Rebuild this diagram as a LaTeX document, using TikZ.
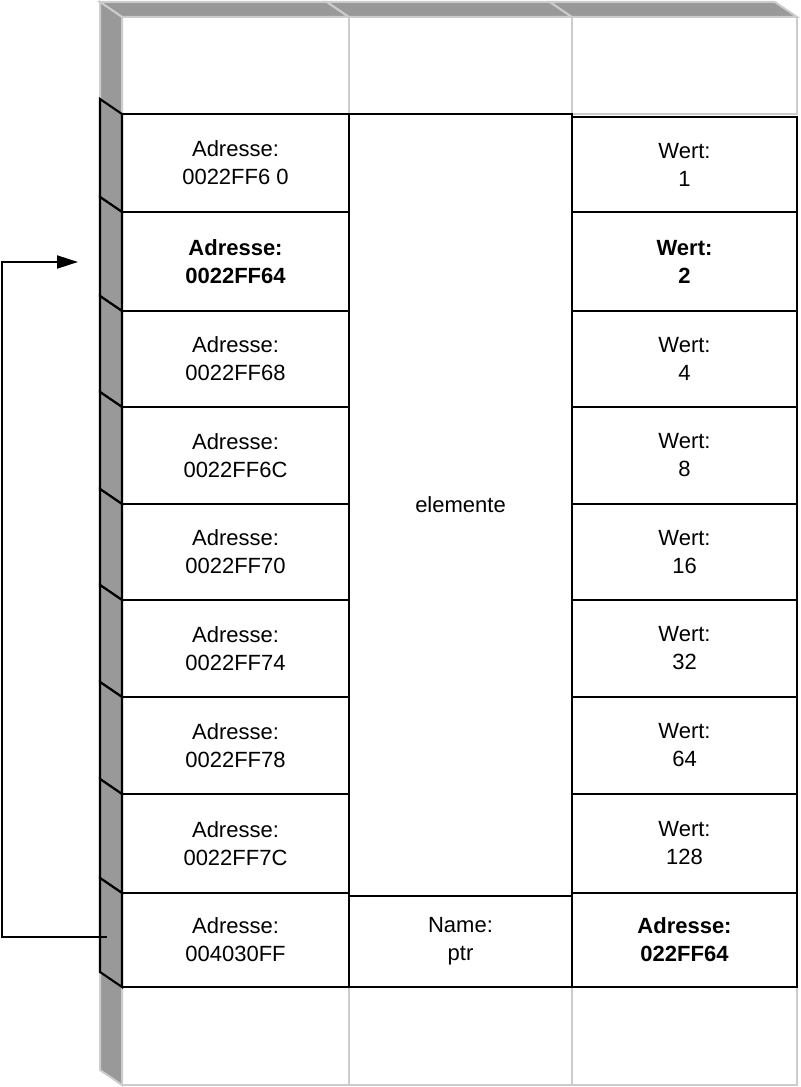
\documentclass[tikz,border=0pt]{standalone}
\usepackage{fontspec}
\setmainfont{Liberation Sans}
\usetikzlibrary{arrows.meta}
\definecolor{sidegray}{RGB}{153,153,153}
\definecolor{edgegray}{RGB}{204,204,204}
\begin{document}
\begin{tikzpicture}[x=0.75pt,y=-0.75pt,
  cell/.style={draw=black,line width=1.6pt,rectangle,inner sep=0pt,outer sep=0pt,
    align=center,font=\fontsize{16.5pt}{21pt}\selectfont},
  cellsize/.style 2 args={minimum width=#1*0.75pt,minimum height=#2*0.75pt},
  ghost/.style={draw=edgegray,line width=1.5pt},
  ghostface/.style={draw=edgegray,fill=sidegray,line width=1.5pt,line join=miter},
  sideface/.style={draw=black,fill=sidegray,line width=1.6pt,line join=miter},
  pointer/.style={draw=black,line width=1.5pt,-{Triangle[length=15.75pt,width=9.75pt]}}]
\useasboundingbox (0,0) rectangle (800,1087);

% empty frames above and below the used block
\draw[ghost] (122,17) rectangle (797,114);
\draw[ghost] (349,17) -- (349,114) (572,17) -- (572,114);
\draw[ghost] (122,987) rectangle (797,1085);
\draw[ghost] (349,987) -- (349,1085) (572,987) -- (572,1085);

% top faces of the upper row
\filldraw[ghostface] (122,17) -- (100,2) -- (327,2) -- (349,17) -- cycle;
\filldraw[ghostface] (349,17) -- (327,2) -- (550,2) -- (572,17) -- cycle;
\filldraw[ghostface] (572,17) -- (550,2) -- (775,2) -- (797,17) -- cycle;

% side faces of the empty rows
\filldraw[ghostface] (122,17) -- (100,2) -- (100,99) -- (122,114) -- cycle;
\filldraw[ghostface] (122,987) -- (100,972) -- (100,1070) -- (122,1085) -- cycle;

% side faces of the used rows (top/bottom edge of each row)
\foreach \t/\b in {114/212,212/311,311/407,407/504,504/600,600/697,697/794,794/893,893/987}
  \filldraw[sideface] (122,\t) -- (100,\t-15) -- (100,\b-15) -- (122,\b) -- cycle;

% address column
\node[cell,cellsize={227}{98}] (a1) at (235.5,163) {Adresse:\\0022FF6 0};
\node[cell,cellsize={227}{99}] (a2) at (235.5,261.5) {\bfseries Adresse:\\\bfseries 0022FF64};
\node[cell,cellsize={227}{96}] (a3) at (235.5,359) {Adresse:\\0022FF68};
\node[cell,cellsize={227}{97}] (a4) at (235.5,455.5) {Adresse:\\0022FF6C};
\node[cell,cellsize={227}{96}] (a5) at (235.5,552) {Adresse:\\0022FF70};
\node[cell,cellsize={227}{97}] (a6) at (235.5,648.5) {Adresse:\\0022FF74};
\node[cell,cellsize={227}{97}] (a7) at (235.5,745.5) {Adresse:\\0022FF78};
\node[cell,cellsize={227}{99}] (a8) at (235.5,843.5) {Adresse:\\0022FF7C};
\node[cell,cellsize={227}{94}] (a9) at (235.5,940) {Adresse:\\004030FF};

% name column
\node[cell,cellsize={223}{782}] (arr) at (460.5,505) {elemente};
\node[cell,cellsize={223}{91}] (ptr) at (460.5,941.5) {Name:\\ptr};

% value column
\node[cell,cellsize={225}{95}] (v1) at (684.5,164.5) {Wert:\\1};
\node[cell,cellsize={225}{99}] (v2) at (684.5,261.5) {\bfseries Wert:\\\bfseries 2};
\node[cell,cellsize={225}{96}] (v3) at (684.5,359) {Wert:\\4};
\node[cell,cellsize={225}{97}] (v4) at (684.5,455.5) {Wert:\\8};
\node[cell,cellsize={225}{96}] (v5) at (684.5,552) {Wert:\\16};
\node[cell,cellsize={225}{97}] (v6) at (684.5,648.5) {Wert:\\32};
\node[cell,cellsize={225}{97}] (v7) at (684.5,745.5) {Wert:\\64};
\node[cell,cellsize={225}{99}] (v8) at (684.5,843.5) {Wert:\\128};
\node[cell,cellsize={225}{94}] (v9) at (684.5,940) {\bfseries Adresse:\\\bfseries 022FF64};

% pointer from ptr back to the element it refers to
\coordinate (src) at (107,937);
\coordinate (dst) at (78,262);
\draw[pointer] (src) -- ++(-105,0) |- (dst);
\end{tikzpicture}
\end{document}
